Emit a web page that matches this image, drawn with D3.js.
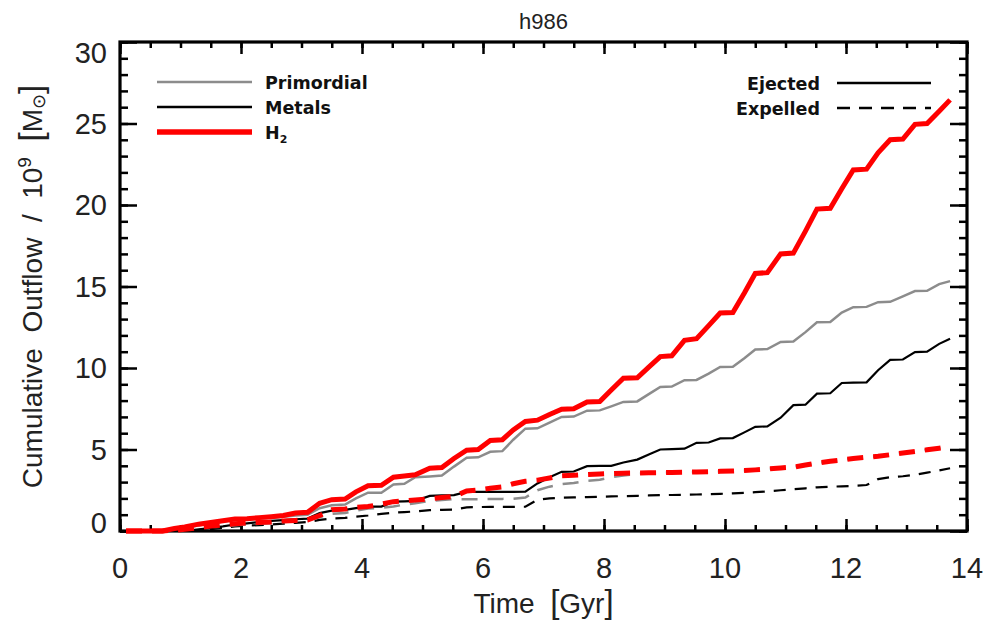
<!DOCTYPE html>
<html>
<head>
<meta charset="utf-8">
<script src="https://cdn.jsdelivr.net/npm/d3@7"></script>
<style>
  html, body { margin: 0; padding: 0; background: #fff; }
  svg { display: block; }
</style>
</head>
<body>
<svg id="chart" width="992" height="629"></svg>
<script>
// Simulation snapshot times (Gyr)
const times = [0.1, 0.4, 0.7, 0.9, 1.07, 1.3, 1.5, 1.7, 1.9, 2.1,
  2.3, 2.5, 2.7, 2.9, 3.1, 3.3, 3.5, 3.72, 3.9, 4.1,
  4.32, 4.52, 4.7, 4.88, 5.12, 5.32, 5.52, 5.73, 5.92, 6.12,
  6.32, 6.5, 6.7, 6.9, 7.1, 7.3, 7.5, 7.72, 7.93, 8.12,
  8.32, 8.55, 8.74, 8.93, 9.12, 9.33, 9.53, 9.73, 9.92, 10.13,
  10.32, 10.5, 10.7, 10.92, 11.13, 11.33, 11.52, 11.74, 11.93, 12.12,
  12.34, 12.53, 12.73, 12.94, 13.14, 13.34, 13.54, 13.72];

// Cumulative ejected mass (10^9 Msun)
const h2Ejected = [0, 0, 0, 0.15, 0.25, 0.42, 0.52, 0.63, 0.73, 0.75,
  0.82, 0.88, 0.95, 1.1, 1.15, 1.7, 1.92, 1.96, 2.4, 2.78,
  2.8, 3.3, 3.38, 3.45, 3.85, 3.9, 4.45, 4.96, 5.0, 5.55,
  5.6, 6.2, 6.72, 6.8, 7.15, 7.47, 7.5, 7.92, 7.95, 8.65,
  9.37, 9.4, 10.05, 10.7, 10.75, 11.7, 11.8, 12.6, 13.37, 13.4,
  14.6, 15.8, 15.85, 17.0, 17.05, 18.4, 19.75, 19.8, 21.0, 22.15,
  22.2, 23.2, 24.0, 24.05, 24.95, 25.0, 25.75, 26.45];
const primordialEjected = [0, 0, 0, 0.1, 0.2, 0.35, 0.45, 0.58, 0.68, 0.7,
  0.76, 0.82, 0.88, 0.95, 1.0, 1.4, 1.58, 1.62, 2.0, 2.35,
  2.35, 2.85, 2.9, 3.3, 3.35, 3.4, 3.95, 4.5, 4.52, 4.86,
  4.9, 5.6, 6.28, 6.3, 6.65, 7.0, 7.02, 7.38, 7.4, 7.65,
  7.92, 7.95, 8.4, 8.84, 8.86, 9.25, 9.27, 9.65, 10.06, 10.08,
  10.6, 11.14, 11.16, 11.6, 11.62, 12.2, 12.8, 12.82, 13.4, 13.73,
  13.75, 14.04, 14.06, 14.4, 14.72, 14.74, 15.15, 15.33];
const metalsEjected = [0, 0, 0, 0, 0, 0.1, 0.18, 0.28, 0.4, 0.47,
  0.55, 0.62, 0.67, 0.72, 0.76, 1.1, 1.25, 1.3, 1.4, 1.5,
  1.5, 1.8, 1.82, 1.85, 2.15, 2.18, 2.2, 2.4, 2.4, 2.4,
  2.4, 2.4, 2.42, 2.92, 3.3, 3.63, 3.65, 3.98, 4.0, 4.0,
  4.2, 4.38, 4.7, 5.0, 5.02, 5.05, 5.41, 5.43, 5.68, 5.7,
  6.05, 6.39, 6.42, 6.95, 7.72, 7.75, 8.43, 8.45, 9.08, 9.1,
  9.12, 9.86, 10.5, 10.52, 10.98, 11.0, 11.48, 11.8];

// Cumulative expelled mass (10^9 Msun)
const h2Expelled = [0, 0, 0, 0.05, 0.1, 0.2, 0.3, 0.38, 0.45, 0.5,
  0.52, 0.55, 0.62, 0.65, 0.68, 0.95, 1.3, 1.35, 1.45, 1.5,
  1.65, 1.8, 1.85, 1.9, 1.98, 2.05, 2.12, 2.45, 2.52, 2.62,
  2.7, 2.9, 3.05, 3.12, 3.25, 3.39, 3.42, 3.47, 3.5, 3.53,
  3.55, 3.56, 3.57, 3.58, 3.59, 3.6, 3.62, 3.64, 3.66, 3.68,
  3.71, 3.75, 3.8, 3.87, 3.92, 4.05, 4.17, 4.28, 4.36, 4.45,
  4.52, 4.58, 4.68, 4.78, 4.88, 4.98, 5.08, 5.18];
const primordialExpelled = [0, 0, 0, 0.03, 0.06, 0.12, 0.2, 0.28, 0.35, 0.4,
  0.44, 0.48, 0.55, 0.6, 0.64, 0.85, 1.05, 1.1, 1.25, 1.38,
  1.42, 1.5, 1.62, 1.7, 1.85, 1.9, 1.95, 1.95, 1.95, 1.96,
  1.97, 1.98, 2.05, 2.5, 2.72, 2.88, 2.95, 3.08, 3.15, 3.3,
  3.4, 3.5, 3.57, 3.58, 3.59, 3.6, 3.62, 3.64, 3.66, 3.68,
  3.71, 3.75, 3.8, 3.87, 3.92, 4.05, 4.17, 4.28, 4.36, 4.45,
  4.52, 4.58, 4.68, 4.78, 4.88, 4.98, 5.08, 5.18];
const metalsExpelled = [0, 0, 0, 0, 0, 0.05, 0.12, 0.2, 0.28, 0.33,
  0.36, 0.4, 0.45, 0.5, 0.55, 0.68, 0.76, 0.8, 0.88, 0.95,
  1.05, 1.12, 1.16, 1.2, 1.28, 1.3, 1.32, 1.45, 1.47, 1.48,
  1.48, 1.48, 1.49, 1.92, 2.0, 2.04, 2.06, 2.08, 2.1, 2.12,
  2.14, 2.16, 2.18, 2.2, 2.21, 2.22, 2.24, 2.26, 2.28, 2.31,
  2.34, 2.38, 2.43, 2.5, 2.56, 2.62, 2.68, 2.72, 2.74, 2.76,
  2.82, 3.18, 3.3, 3.36, 3.45, 3.58, 3.72, 3.85];

// Axis ticks
const xMajorTicks = [0, 2, 4, 6, 8, 10, 12, 14];
const xMinorTicks = d3.range(0, 14.01, 0.5);
const yMajorTicks = [0, 5, 10, 15, 20, 25, 30];
const yMinorTicks = d3.range(0, 30.01, 1);

// Legend entries
const componentNames = ["Primordial", "Metals", "H2"];
const modeNames = ["Ejected", "Expelled"];

const svg = d3.select("#chart");
const L = 120, R = 967, T = 42, B = 531;
const x = d3.scaleLinear().domain([0, 14]).range([L, R]);
const y = d3.scaleLinear().domain([0, 30]).range([B, T]);

const fontAxis = "'Liberation Sans', Arial, sans-serif";
const fontLegend = "'DejaVu Sans', Verdana, sans-serif";

// Frame
svg.append("rect").attr("x", L).attr("y", T).attr("width", R - L).attr("height", B - T)
  .attr("fill", "none").attr("stroke", "#000").attr("stroke-width", 3.2);

function tickAxis(axisFn, scale, ticks, size, translate) {
  const g = svg.append("g").attr("transform", translate)
    .call(axisFn(scale).tickValues(ticks).tickSize(size).tickFormat(""));
  g.select(".domain").remove();
  g.selectAll(".tick line").attr("stroke", "#000").attr("stroke-width", 2.5);
  return g;
}
// inward ticks on all four sides
tickAxis(d3.axisBottom, x, xMinorTicks, -6, `translate(0,${B})`);
tickAxis(d3.axisBottom, x, xMajorTicks, -12, `translate(0,${B})`);
tickAxis(d3.axisTop, x, xMinorTicks, -6, `translate(0,${T})`);
tickAxis(d3.axisTop, x, xMajorTicks, -12, `translate(0,${T})`);
tickAxis(d3.axisLeft, y, yMinorTicks, -8, `translate(${L},0)`);
tickAxis(d3.axisLeft, y, yMajorTicks, -17, `translate(${L},0)`);
tickAxis(d3.axisRight, y, yMinorTicks, -8, `translate(${R},0)`);
tickAxis(d3.axisRight, y, yMajorTicks, -17, `translate(${R},0)`);

// Tick labels
svg.append("g").selectAll("text").data(xMajorTicks).join("text")
  .attr("x", d => x(d)).attr("y", 578)
  .attr("text-anchor", "middle")
  .attr("font-family", fontAxis).attr("font-size", 29).attr("fill", "#222")
  .text(d => d);
svg.append("g").selectAll("text").data(yMajorTicks).join("text")
  .attr("x", 107)
  .attr("y", d => Math.min(B - 8, Math.max(T + 11, y(d))))
  .attr("dy", "0.36em")
  .attr("text-anchor", "end")
  .attr("font-family", fontAxis).attr("font-size", 29).attr("fill", "#222")
  .text(d => d);

// Title and axis titles
svg.append("text").attr("x", (L + R) / 2).attr("y", 29)
  .attr("text-anchor", "middle").attr("font-family", fontAxis)
  .attr("font-size", 22).attr("fill", "#222").text("h986");

const xt = svg.append("text").attr("x", (L + R) / 2).attr("y", 613)
  .attr("text-anchor", "middle").attr("font-family", fontAxis)
  .attr("font-size", 28).attr("fill", "#222").attr("xml:space", "preserve");
xt.append("tspan").text("Time  ");
xt.append("tspan").attr("font-size", 33).text("[");
xt.append("tspan").text("Gyr");
xt.append("tspan").attr("font-size", 33).text("]");

const yt = svg.append("text")
  .attr("transform", `translate(42,${(T + B) / 2}) rotate(-90)`)
  .attr("text-anchor", "middle").attr("font-family", fontAxis)
  .attr("font-size", 28).attr("fill", "#222").attr("xml:space", "preserve");
yt.append("tspan").text("Cumulative  Outflow  /  10");
yt.append("tspan").attr("font-size", 19).attr("dy", -11).text("9");
yt.append("tspan").attr("dy", 11).text("  ");
yt.append("tspan").attr("font-size", 33).text("[");
yt.append("tspan").text("M");
yt.append("tspan").attr("font-size", 18).attr("dy", 3).text("⊙");
yt.append("tspan").attr("font-size", 33).attr("dy", -3).text("]");

// Series lines
const line = d3.line().x(d => x(d[0])).y(d => y(d[1]));
const pts = v => times.map((t, i) => [t, v[i]]);
const series = [
  { v: metalsExpelled, color: "#000", w: 2.2, dash: "12,9" },
  { v: primordialExpelled, color: "#8c8c8c", w: 2.5, dash: "16,10", alignTo: h2Expelled },
  { v: primordialEjected, color: "#8c8c8c", w: 2.5, dash: null },
  { v: metalsEjected, color: "#000", w: 2.2, dash: null },
  { v: h2Expelled, color: "#ff0000", w: 5, dash: "16,10" },
  { v: h2Ejected, color: "#ff0000", w: 5, dash: null }
];

// Where two dashed curves share a tail, shift the dash phase so their dashes coincide.
const measure = svg.append("path").attr("fill", "none");
function lengthTo(v, k) {
  measure.attr("d", line(pts(v).slice(0, k + 1)));
  return measure.node().getTotalLength();
}
series.forEach(s => {
  s.offset = 0;
  if (s.alignTo) {
    let k = times.length - 1;
    while (k > 0 && s.v[k - 1] === s.alignTo[k - 1]) k--;
    s.offset = lengthTo(s.v, k) - lengthTo(s.alignTo, k);
  }
});
measure.remove();

svg.append("g").selectAll("path").data(series).join("path")
  .attr("d", s => line(pts(s.v)))
  .attr("fill", "none").attr("stroke", s => s.color)
  .attr("stroke-width", s => s.w)
  .attr("stroke-dasharray", s => s.dash)
  .attr("stroke-dashoffset", s => s.offset)
  .attr("stroke-linejoin", "miter");

// Legend: components
const compStyles = [
  { color: "#8c8c8c", w: 2.5 }, { color: "#000", w: 2.5 }, { color: "#ff0000", w: 5.5 }
];
const legL = svg.append("g");
componentNames.forEach((name, i) => {
  const yy = 82 + i * 25;
  legL.append("line").attr("x1", 157).attr("x2", 252).attr("y1", yy).attr("y2", yy)
    .attr("stroke", compStyles[i].color).attr("stroke-width", compStyles[i].w);
  const t = legL.append("text").attr("x", 265).attr("y", yy + 7)
    .attr("font-family", fontLegend).attr("font-weight", "bold")
    .attr("font-size", 17.5).attr("fill", "#111");
  if (name === "H2") {
    t.append("tspan").text("H");
    t.append("tspan").attr("font-size", 11).attr("dy", 4).text("2");
  } else {
    t.text(name);
  }
});

// Legend: outflow modes
const legR = svg.append("g");
modeNames.forEach((name, i) => {
  const yy = 83 + i * 25;
  legR.append("line").attr("x1", 837).attr("x2", 931).attr("y1", yy).attr("y2", yy)
    .attr("stroke", "#000").attr("stroke-width", 2.5)
    .attr("stroke-dasharray", i === 1 ? "13,9" : null);
  legR.append("text").attr("x", 820).attr("y", yy + 7)
    .attr("text-anchor", "end")
    .attr("font-family", fontLegend).attr("font-weight", "bold")
    .attr("font-size", 17.5).attr("fill", "#111").text(name);
});
</script>
</body>
</html>
